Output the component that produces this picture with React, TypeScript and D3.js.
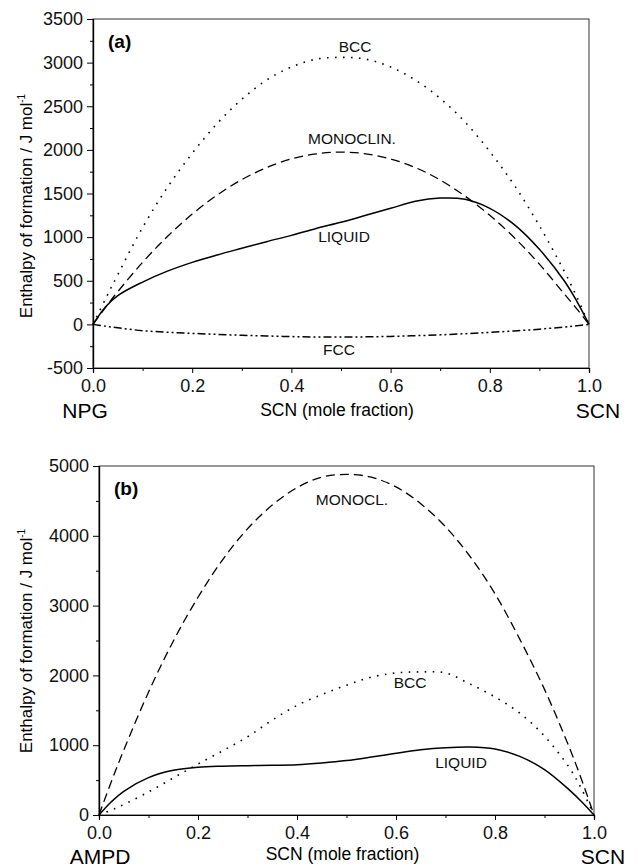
import * as d3 from "d3";
import React, { useEffect, useRef } from "react";

// SCN mole fraction sample points (shared by every curve)
const scnFrac = [0, 0.025, 0.05, 0.1, 0.15, 0.2, 0.25, 0.3, 0.35, 0.4, 0.45, 0.5, 0.55, 0.6, 0.65, 0.7, 0.75, 0.8, 0.85, 0.9, 0.95, 0.975, 1];

// Panel (a): NPG - SCN
const bccA = [0, 290, 570, 1110, 1570, 1960, 2300, 2580, 2800, 2950, 3040, 3060, 3040, 2950, 2800, 2590, 2320, 1980, 1590, 1130, 610, 320, 0];
const monoA = [0, 193, 375, 711, 1007, 1264, 1481, 1659, 1797, 1896, 1955, 1975, 1955, 1896, 1797, 1655, 1470, 1250, 990, 690, 350, 180, 0];
const liquidA = [0, 200, 330, 485, 610, 711, 795, 872, 948, 1020, 1100, 1170, 1250, 1330, 1410, 1447, 1433, 1330, 1140, 860, 500, 270, 0];
const fccA = [0, -20, -40, -72, -90, -103, -115, -125, -133, -140, -145, -146, -143, -138, -130, -120, -107, -92, -75, -55, -30, -16, 0];

// Panel (b): AMPD - SCN
const monoB = [0, 480, 930, 1760, 2490, 3120, 3660, 4100, 4440, 4690, 4840, 4880, 4840, 4700, 4460, 4130, 3700, 3170, 2520, 1800, 970, 505, 0];
const bccB = [0, 70, 150, 330, 530, 730, 920, 1120, 1360, 1570, 1725, 1860, 1975, 2035, 2050, 2035, 1875, 1690, 1460, 1130, 680, 370, 0];
const liquidB = [0, 190, 340, 535, 640, 685, 700, 707, 712, 720, 745, 780, 830, 885, 935, 965, 975, 945, 840, 650, 360, 190, 0];

const xTicks = [0, 0.2, 0.4, 0.6, 0.8, 1.0];
const xMinor = [0.1, 0.3, 0.5, 0.7, 0.9];
const yTicksA = [-500, 0, 500, 1000, 1500, 2000, 2500, 3000, 3500];
const yMinorA = [-250, 250, 750, 1250, 1750, 2250, 2750, 3250];
const yTicksB = [0, 1000, 2000, 3000, 4000, 5000];
const yMinorB = [500, 1500, 2500, 3500, 4500];

const FONT = "'Liberation Sans', Arial, Helvetica, sans-serif";

const DOT = "1.6,6.4";
const DASH = "9,5";
const DASHDOTDOT = "8,3,2,3,2,3";

export default function App() {
  const svgRef = useRef<SVGSVGElement>(null);

  useEffect(() => {
    const svg = d3.select(svgRef.current);
    svg.selectAll("*").remove();

    const drawPanel = (p: any) => {
      const x = d3.scaleLinear().domain([0, 1]).range([p.left, p.right]);
      const y = d3.scaleLinear().domain(p.yDomain).range([p.bottom, p.top]);
      const g = svg.append("g");

      // frame
      g.append("rect")
        .attr("x", p.left).attr("y", p.top)
        .attr("width", p.right - p.left).attr("height", p.bottom - p.top)
        .attr("fill", "none").attr("stroke", "#333").attr("stroke-width", 1);

      // axes
      const xAxis = g.append("g").attr("transform", `translate(0,${p.bottom})`)
        .call(d3.axisBottom(x).tickValues(xTicks).tickSize(5).tickPadding(4).tickFormat(d3.format(".1f")));
      g.append("g").attr("transform", `translate(0,${p.bottom})`)
        .call(d3.axisBottom(x).tickValues(xMinor).tickSize(3).tickFormat(() => ""));
      g.append("g").attr("transform", `translate(${p.left},0)`)
        .call(d3.axisLeft(y).tickValues(p.yTicks).tickSize(6).tickPadding(4).tickFormat((d: any) => String(d)));
      g.append("g").attr("transform", `translate(${p.left},0)`)
        .call(d3.axisLeft(y).tickValues(p.yMinor).tickSize(3).tickFormat(() => ""));

      g.selectAll(".domain").attr("stroke", "#000").attr("stroke-width", 1.2);
      g.selectAll(".tick line").attr("stroke", "#000").attr("stroke-width", 1);
      g.selectAll(".tick text").style("font-family", FONT).style("font-size", "18px").attr("fill", "#111");
      xAxis.selectAll(".tick text").attr("dy", "0.85em");

      // curves
      const line = d3.line<number>()
        .x((_, i) => x(scnFrac[i]))
        .y(d => y(d))
        .curve(d3.curveCatmullRom.alpha(0.5));

      p.series.forEach((s: any) => {
        g.append("path")
          .datum(s.values)
          .attr("fill", "none")
          .attr("stroke", "#000")
          .attr("stroke-width", s.width)
          .attr("stroke-dasharray", s.dash)
          .attr("d", line);
      });

      // curve labels
      p.labels.forEach((l: any) => {
        g.append("text")
          .attr("x", l.x).attr("y", l.y)
          .attr("text-anchor", "middle")
          .style("font-family", FONT).style("font-size", "15.5px")
          .attr("fill", "#111")
          .text(l.text);
      });

      // panel tag
      g.append("text")
        .attr("x", p.left + 15).attr("y", p.top + 29)
        .style("font-family", FONT).style("font-size", "19px").style("font-weight", "bold")
        .text(p.tag);

      // x title and end members
      g.append("text")
        .attr("x", (p.left + p.right) / 2 - 4).attr("y", p.titleY)
        .attr("text-anchor", "middle")
        .style("font-family", FONT).style("font-size", "17.5px")
        .text("SCN (mole fraction)");
      g.append("text")
        .attr("x", p.leftNameX).attr("y", p.nameY)
        .attr("text-anchor", "middle")
        .style("font-family", FONT).style("font-size", "21px")
        .text(p.leftName);
      g.append("text")
        .attr("x", p.rightNameX).attr("y", p.nameY)
        .attr("text-anchor", "middle")
        .style("font-family", FONT).style("font-size", "21px")
        .text("SCN");

      // y title
      const yt = g.append("text")
        .attr("transform", `translate(32,${p.yTitleY}) rotate(-90)`)
        .attr("text-anchor", "middle")
        .style("font-family", FONT).style("font-size", "17px");
      yt.append("tspan").text("Enthalpy of formation / J mol");
      yt.append("tspan").attr("dy", -7).style("font-size", "10px").text("-1");
    };

    drawPanel({
      left: 93, right: 589, top: 19, bottom: 368,
      yDomain: [-500, 3500], yTicks: yTicksA, yMinor: yMinorA,
      tag: "(a)", leftName: "NPG", leftNameX: 85, rightNameX: 598,
      titleY: 416, nameY: 418, yTitleY: 206,
      series: [
        { values: bccA, dash: DOT, width: 1.6 },
        { values: monoA, dash: DASH, width: 1.3 },
        { values: liquidA, dash: null, width: 1.5 },
        { values: fccA, dash: DASHDOTDOT, width: 1.5 },
      ],
      labels: [
        { text: "BCC", x: 355, y: 52 },
        { text: "MONOCLIN.", x: 352, y: 144 },
        { text: "LIQUID", x: 344, y: 242 },
        { text: "FCC", x: 339, y: 355 },
      ],
    });

    drawPanel({
      left: 99, right: 594, top: 466, bottom: 815,
      yDomain: [0, 5000], yTicks: yTicksB, yMinor: yMinorB,
      tag: "(b)", leftName: "AMPD", leftNameX: 100, rightNameX: 603,
      titleY: 860, nameY: 864, yTitleY: 641,
      series: [
        { values: monoB, dash: DASH, width: 1.3 },
        { values: bccB, dash: DOT, width: 1.6 },
        { values: liquidB, dash: null, width: 1.5 },
      ],
      labels: [
        { text: "MONOCL.", x: 352, y: 505 },
        { text: "BCC", x: 410, y: 688 },
        { text: "LIQUID", x: 461, y: 768 },
      ],
    });
  }, []);

  return (
    <svg
      ref={svgRef}
      width={638}
      height={868}
      style={{ position: "absolute", left: 0, top: 0, background: "#fff", display: "block" }}
    />
  );
}
